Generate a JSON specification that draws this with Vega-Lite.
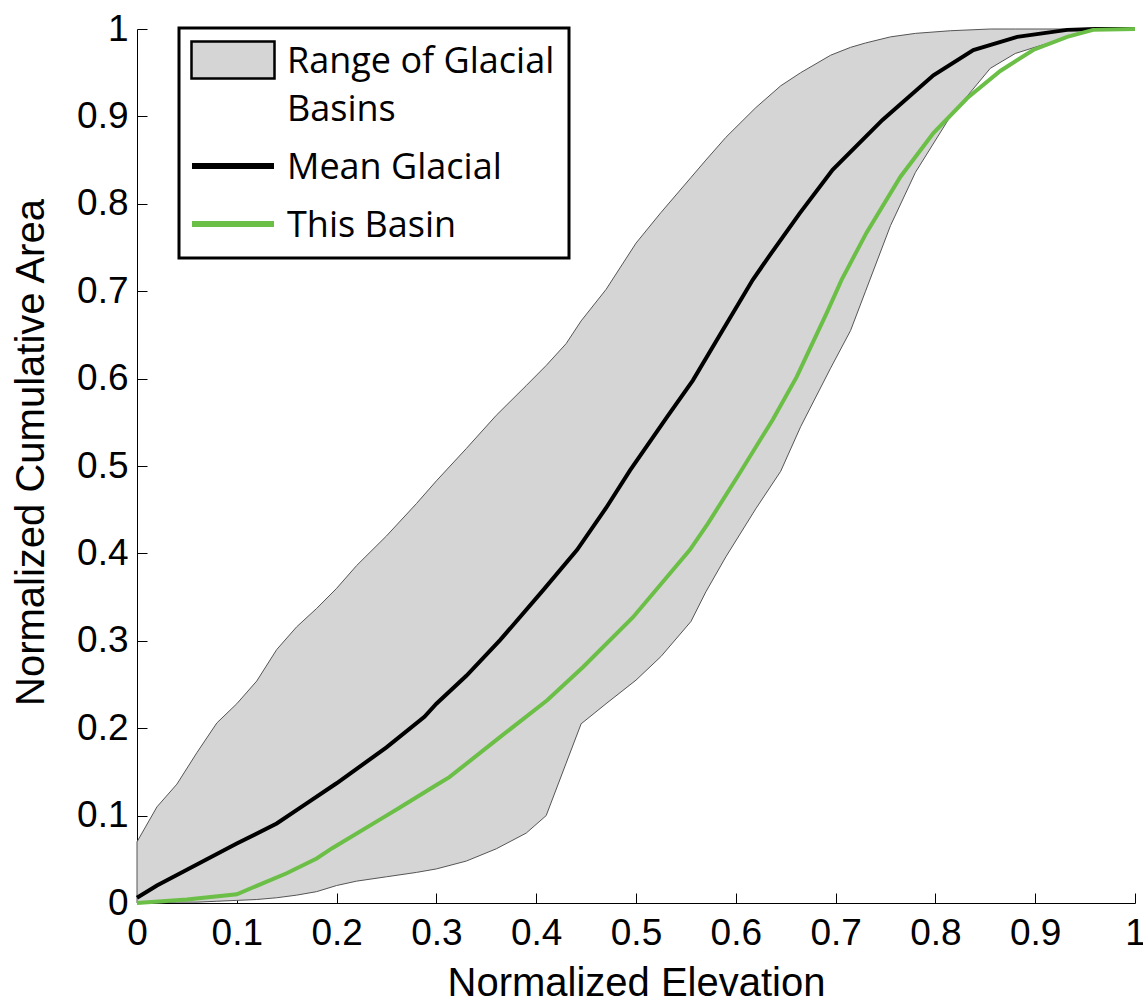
{
  "$schema": "https://vega.github.io/schema/vega-lite/v6.json",
  "width": 998,
  "height": 874,
  "autosize": {"type": "none"},
  "padding": {"left": 137, "top": 29, "right": 8, "bottom": 102},
  "config": {
    "view": {"stroke": null},
    "axis": {
      "grid": false,
      "domainColor": "#000000",
      "domainWidth": 1,
      "tickColor": "#000000",
      "tickWidth": 1,
      "tickSize": -10,
      "labelFont": "Liberation Sans",
      "labelFontSize": 37,
      "labelColor": "#000000",
      "titleFont": "Liberation Sans",
      "titleFontSize": 40,
      "titleFontWeight": "normal",
      "titleColor": "#000000"
    }
  },
  "datasets": {
    "band": [
      {"x": 0, "lower": 0.0, "upper": 0.07},
      {"x": 0.02, "lower": 0.0, "upper": 0.11},
      {"x": 0.04, "lower": 0.001, "upper": 0.136},
      {"x": 0.06, "lower": 0.001, "upper": 0.172},
      {"x": 0.08, "lower": 0.002, "upper": 0.206},
      {"x": 0.1, "lower": 0.003, "upper": 0.228},
      {"x": 0.12, "lower": 0.004, "upper": 0.254},
      {"x": 0.14, "lower": 0.006, "upper": 0.29},
      {"x": 0.16, "lower": 0.009, "upper": 0.316},
      {"x": 0.18, "lower": 0.013, "upper": 0.337},
      {"x": 0.2, "lower": 0.02, "upper": 0.36},
      {"x": 0.22, "lower": 0.025, "upper": 0.386},
      {"x": 0.25, "lower": 0.03, "upper": 0.42},
      {"x": 0.28, "lower": 0.035, "upper": 0.457},
      {"x": 0.3, "lower": 0.039, "upper": 0.483},
      {"x": 0.33, "lower": 0.048, "upper": 0.52},
      {"x": 0.36, "lower": 0.062, "upper": 0.558},
      {"x": 0.39, "lower": 0.08, "upper": 0.592},
      {"x": 0.41, "lower": 0.1, "upper": 0.615},
      {"x": 0.43, "lower": 0.16, "upper": 0.64},
      {"x": 0.445, "lower": 0.205, "upper": 0.666},
      {"x": 0.47, "lower": 0.228, "upper": 0.702},
      {"x": 0.5, "lower": 0.255, "upper": 0.755},
      {"x": 0.525, "lower": 0.282, "upper": 0.79},
      {"x": 0.555, "lower": 0.322, "upper": 0.83},
      {"x": 0.57, "lower": 0.356, "upper": 0.85},
      {"x": 0.59, "lower": 0.396, "upper": 0.876},
      {"x": 0.62, "lower": 0.451, "upper": 0.91},
      {"x": 0.645, "lower": 0.494, "upper": 0.935},
      {"x": 0.665, "lower": 0.545, "upper": 0.95},
      {"x": 0.695, "lower": 0.612, "upper": 0.97},
      {"x": 0.715, "lower": 0.655, "upper": 0.979},
      {"x": 0.73, "lower": 0.7, "upper": 0.984},
      {"x": 0.755, "lower": 0.775, "upper": 0.991},
      {"x": 0.78, "lower": 0.836, "upper": 0.995},
      {"x": 0.815, "lower": 0.9, "upper": 0.998},
      {"x": 0.855, "lower": 0.955, "upper": 1.0},
      {"x": 0.88, "lower": 0.972, "upper": 1.0},
      {"x": 0.93, "lower": 0.99, "upper": 1.0},
      {"x": 0.96, "lower": 0.999, "upper": 1.0},
      {"x": 1.0, "lower": 1.0, "upper": 1.0}
    ],
    "lines": [
      {"series": "Mean Glacial", "x": 0, "y": 0.006},
      {"series": "Mean Glacial", "x": 0.02, "y": 0.02},
      {"series": "Mean Glacial", "x": 0.05, "y": 0.038},
      {"series": "Mean Glacial", "x": 0.07, "y": 0.05},
      {"series": "Mean Glacial", "x": 0.1, "y": 0.068},
      {"series": "Mean Glacial", "x": 0.14, "y": 0.091},
      {"series": "Mean Glacial", "x": 0.17, "y": 0.114},
      {"series": "Mean Glacial", "x": 0.2, "y": 0.137},
      {"series": "Mean Glacial", "x": 0.25, "y": 0.178},
      {"series": "Mean Glacial", "x": 0.288, "y": 0.213},
      {"series": "Mean Glacial", "x": 0.3, "y": 0.228},
      {"series": "Mean Glacial", "x": 0.33, "y": 0.26},
      {"series": "Mean Glacial", "x": 0.364, "y": 0.301},
      {"series": "Mean Glacial", "x": 0.407, "y": 0.358},
      {"series": "Mean Glacial", "x": 0.441, "y": 0.404},
      {"series": "Mean Glacial", "x": 0.47, "y": 0.452},
      {"series": "Mean Glacial", "x": 0.494, "y": 0.495},
      {"series": "Mean Glacial", "x": 0.531, "y": 0.556},
      {"series": "Mean Glacial", "x": 0.557, "y": 0.598},
      {"series": "Mean Glacial", "x": 0.584, "y": 0.65},
      {"series": "Mean Glacial", "x": 0.617, "y": 0.713},
      {"series": "Mean Glacial", "x": 0.634, "y": 0.741},
      {"series": "Mean Glacial", "x": 0.664, "y": 0.789},
      {"series": "Mean Glacial", "x": 0.697, "y": 0.839},
      {"series": "Mean Glacial", "x": 0.747, "y": 0.896},
      {"series": "Mean Glacial", "x": 0.798, "y": 0.947},
      {"series": "Mean Glacial", "x": 0.838, "y": 0.976},
      {"series": "Mean Glacial", "x": 0.882, "y": 0.991},
      {"series": "Mean Glacial", "x": 0.932, "y": 0.999},
      {"series": "Mean Glacial", "x": 0.96, "y": 1.0},
      {"series": "Mean Glacial", "x": 1.0, "y": 1.0},
      {"series": "This Basin", "x": 0, "y": 0.0},
      {"series": "This Basin", "x": 0.05, "y": 0.004},
      {"series": "This Basin", "x": 0.1, "y": 0.01},
      {"series": "This Basin", "x": 0.15, "y": 0.034},
      {"series": "This Basin", "x": 0.18, "y": 0.051},
      {"series": "This Basin", "x": 0.196, "y": 0.063},
      {"series": "This Basin", "x": 0.247, "y": 0.098},
      {"series": "This Basin", "x": 0.263, "y": 0.109},
      {"series": "This Basin", "x": 0.3, "y": 0.135},
      {"series": "This Basin", "x": 0.313, "y": 0.144},
      {"series": "This Basin", "x": 0.364, "y": 0.19},
      {"series": "This Basin", "x": 0.411, "y": 0.232},
      {"series": "This Basin", "x": 0.447, "y": 0.27},
      {"series": "This Basin", "x": 0.497, "y": 0.327},
      {"series": "This Basin", "x": 0.554, "y": 0.404},
      {"series": "This Basin", "x": 0.572, "y": 0.434},
      {"series": "This Basin", "x": 0.604, "y": 0.492},
      {"series": "This Basin", "x": 0.637, "y": 0.553},
      {"series": "This Basin", "x": 0.661, "y": 0.602},
      {"series": "This Basin", "x": 0.691, "y": 0.675},
      {"series": "This Basin", "x": 0.706, "y": 0.713},
      {"series": "This Basin", "x": 0.731, "y": 0.767},
      {"series": "This Basin", "x": 0.765, "y": 0.831},
      {"series": "This Basin", "x": 0.798, "y": 0.881},
      {"series": "This Basin", "x": 0.832, "y": 0.921},
      {"series": "This Basin", "x": 0.865, "y": 0.952},
      {"series": "This Basin", "x": 0.898, "y": 0.976},
      {"series": "This Basin", "x": 0.932, "y": 0.991},
      {"series": "This Basin", "x": 0.958, "y": 0.999},
      {"series": "This Basin", "x": 1.0, "y": 1.0}
    ]
  },
  "layer": [
    {
      "data": {"name": "band"},
      "mark": {"type": "area", "fill": "#d5d5d5", "stroke": "#555555", "strokeWidth": 1, "opacity": 1},
      "encoding": {
        "x": {
          "field": "x", "type": "quantitative",
          "scale": {"domain": [0, 1], "nice": false, "zero": false},
          "axis": {
            "values": [0, 0.1, 0.2, 0.3, 0.4, 0.5, 0.6, 0.7, 0.8, 0.9, 1],
            "format": "~g",
            "labelPadding": 22,
            "labelFlush": false,
            "title": "Normalized Elevation",
            "titleY": 92,
            "titleBaseline": "alphabetic"
          }
        },
        "y": {
          "field": "lower", "type": "quantitative",
          "scale": {"domain": [0, 1], "nice": false, "zero": false},
          "axis": {
            "values": [0, 0.1, 0.2, 0.3, 0.4, 0.5, 0.6, 0.7, 0.8, 0.9, 1],
            "format": "~g",
            "labelPadding": 19,
            "labelFlush": false,
            "title": "Normalized Cumulative Area",
            "titleX": -94,
            "titleY": 423,
            "titleBaseline": "alphabetic"
          }
        },
        "y2": {"field": "upper"}
      }
    },
    {
      "data": {"name": "lines"},
      "mark": {"type": "line", "strokeWidth": 4},
      "encoding": {
        "x": {"field": "x", "type": "quantitative"},
        "y": {"field": "y", "type": "quantitative"},
        "color": {
          "field": "series",
          "type": "nominal",
          "scale": {
            "domain": ["Range of Glacial Basins", "Mean Glacial", "This Basin"],
            "range": ["#000000", "#000000", "#6bbf47"]
          },
          "legend": {
            "orient": "none",
            "legendX": 42,
            "legendY": -1,
            "title": null,
            "padding": 14,
            "rowPadding": 20,
            "symbolOffset": 22,
            "labelOffset": 36,
            "labelFont": "Open Sans",
            "labelFontSize": 36,
            "labelColor": "#000000",
            "labelLimit": 500,
            "labelBaseline": "alphabetic",
            "labelExpr": "datum.value === 'Range of Glacial Basins' ? ['Range of Glacial', 'Basins'] : datum.value",
            "fillColor": "#ffffff",
            "strokeColor": "#000000",
            "encode": {
              "legend": {"update": {"strokeWidth": {"value": 3}}},
              "labels": {"update": {"dy": {"value": 13}, "lineHeight": {"value": 48}}},
              "symbols": {
                "update": {
                  "shape": {"signal": "datum.value === 'Range of Glacial Basins' ? 'M-4.15,-1.85H4.15V1.85H-4.15Z' : 'M-4.1,0H4.1'"},
                  "size": {"value": 400},
                  "fill": {"signal": "datum.value === 'Range of Glacial Basins' ? '#d5d5d5' : 'transparent'"},
                  "strokeWidth": {"signal": "datum.value === 'Range of Glacial Basins' ? 2.5 : 6"},
                  "strokeOpacity": {"value": 1},
                  "fillOpacity": {"value": 1},
                  "opacity": {"value": 1}
                }
              }
            }
          }
        }
      }
    }
  ]
}
